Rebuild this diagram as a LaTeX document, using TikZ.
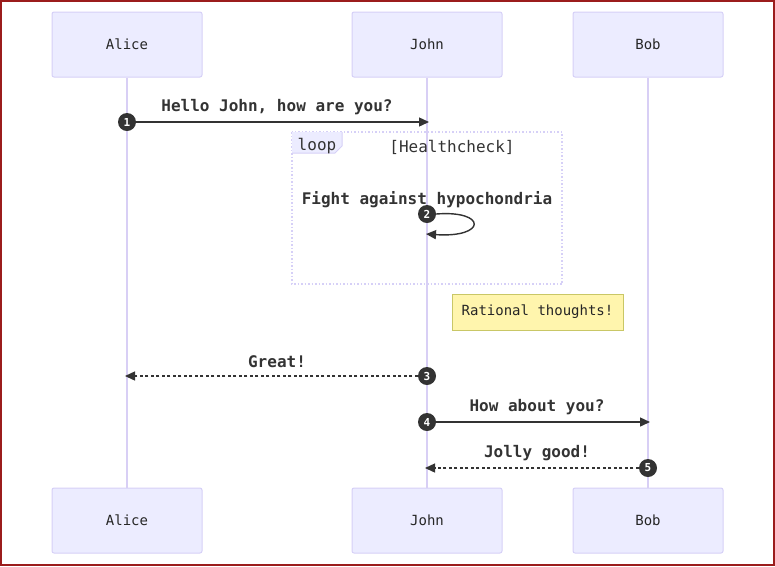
\documentclass[tikz,border=0pt]{standalone}
\usepackage{fontspec}
\setmainfont{DejaVu Sans Mono}
\usetikzlibrary{arrows.meta}
\definecolor{actfill}{HTML}{ECECFF}
\definecolor{actline}{HTML}{D6D0F7}
\definecolor{lifecol}{HTML}{D8CFF5}
\definecolor{msgcol}{HTML}{333333}
\definecolor{notefill}{HTML}{FFF5AD}
\definecolor{noteline}{HTML}{C9C766}
\definecolor{framered}{HTML}{9B1C1C}
\tikzset{
  actor/.style={draw=actline, fill=actfill, line width=1pt, rounded corners=2pt,
    minimum width=150pt, minimum height=65pt, font=\fontsize{14}{16}\selectfont, text=black!85},
  lifeline/.style={draw=lifecol, line width=1.5pt},
  num/.style={circle, fill=msgcol, text=white, inner sep=0pt, minimum size=18pt,
    font=\fontsize{11}{11}\selectfont\bfseries},
  msg/.style={draw=msgcol, line width=1.4pt, -{Triangle[length=10pt,width=9pt]}},
  reply/.style={msg, dash pattern=on 3pt off 2.5pt},
  msglabel/.style={font=\fontsize{16}{18}\selectfont\bfseries, text=msgcol},
  notebox/.style={draw=noteline, fill=notefill, line width=1pt, minimum width=171pt,
    minimum height=36pt, font=\fontsize{14}{16}\selectfont, text=black!85}
}
\begin{document}
\begin{tikzpicture}[x=1pt, y=-1pt]
  \useasboundingbox (0,0) rectangle (775,566);
  % 1. 参与者
  \node[actor] (aliceT) at (127,44.5) {Alice};
  \node[actor] (johnT) at (427,44.5) {John};
  \node[actor] (bobT) at (648,44.5) {Bob};
  \node[actor] (aliceB) at (127,520.5) {Alice};
  \node[actor] (johnB) at (427,520.5) {John};
  \node[actor] (bobB) at (648,520.5) {Bob};

  % 2. 生命线
  \draw[lifeline] (aliceT.south) -- (aliceB.north);
  \draw[lifeline] (johnT.south) -- (johnB.north);
  \draw[lifeline] (bobT.south) -- (bobB.north);

  % 3. 循环框
  \draw[actline, line width=1.2pt, dash pattern=on 1.5pt off 2pt] (292,132) rectangle (562,284);
  \fill[actfill] (292,132) -- (342,132) -- (342,146) -- (335,153) -- (292,153) -- cycle;
  \draw[actline, line width=1pt] (342,132) -- (342,146) -- (335,153) -- (292,153);
  \node[font=\fontsize{16}{18}\selectfont, text=msgcol] (looptag) at (317,146) {loop};
  \node[font=\fontsize{16}{18}\selectfont, text=msgcol] (loopcond) at (452,147) {[Healthcheck]};

  % 4. 消息
  \node[num] (n1) at (127,122) {1};
  \coordinate (j1) at (429,122);
  \draw[msg] (n1) -- (j1);
  \node[msglabel] (l1) at (277,107.5) {Hello John, how are you?};

  \node[msglabel] (l2) at (427,199.5) {Fight against hypochondria};
  \node[num] (n2) at (427,214) {2};
  \coordinate (j2) at (426,234);
  \draw[msg] (n2.east) .. controls (487,210) and (487,238) .. (j2);

  \node[num] (n3) at (427,376) {3};
  \coordinate (a3) at (125,376);
  \draw[reply] (n3) -- (a3);
  \node[msglabel] (l3) at (277,361.5) {Great!};

  \node[num] (n4) at (427,422) {4};
  \coordinate (b4) at (650,422);
  \draw[msg] (n4) -- (b4);
  \node[msglabel] (l4) at (537,407.5) {How about you?};

  \node[num] (n5) at (648,468) {5};
  \coordinate (j5) at (425,468);
  \draw[reply] (n5) -- (j5);
  \node[msglabel] (l5) at (537,453.5) {Jolly good!};

  % 5. 注释
  \node[notebox] (note) at (537.5,312) {Rational thoughts!};

  % 6. 外框
  \draw[framered, line width=2pt] (1,1) rectangle (774,565);
\end{tikzpicture}
\end{document}
